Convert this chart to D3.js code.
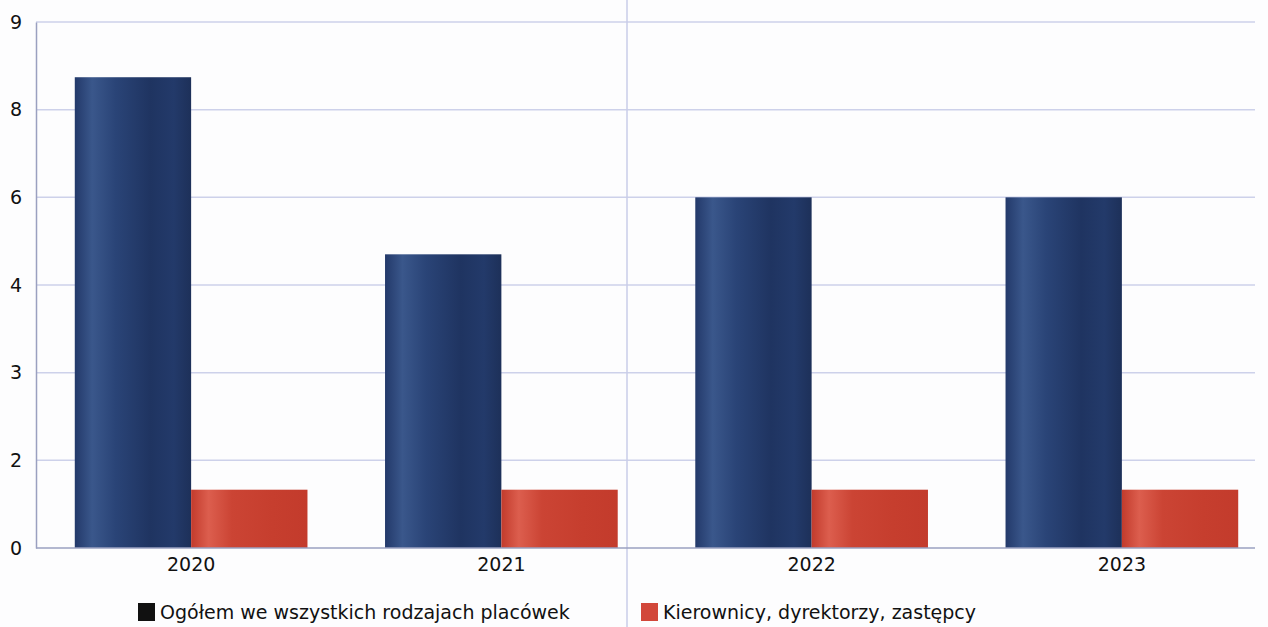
<!DOCTYPE html>
<html><head><meta charset="utf-8">
<script src="https://cdn.jsdelivr.net/npm/d3@7"></script>
<style>body{margin:0;background:#fdfdfe;}svg{display:block;font-family:"DejaVu Sans",sans-serif;}</style>
</head><body><svg id="c" width="1268" height="627"></svg>
<script>
const years = ["2020","2021","2022","2023"];
const ogolem = [8.37, 4.7, 6, 6];
const kierownicy = [1.33, 1.33, 1.33, 1.33];
const tickValues = [0,2,3,4,6,8,9];
const seriesNames = ["Ogółem we wszystkich rodzajach placówek","Kierownicy, dyrektorzy, zastępcy"];

(function(){
const svg = d3.select("#c");
const mLeft = 36, mRight = 1277, mBottom = 548, mTop = 22;
const x = d3.scaleBand().domain(years).range([mLeft, mRight]).paddingInner(0.25).paddingOuter(0.125);
const yRange = tickValues.map((d,i)=> mBottom - i*(mBottom-mTop)/(tickValues.length-1));
const y = d3.scaleLinear().domain(tickValues).range(yRange);

const defs = svg.append("defs");
function grad(id, stops){
  const g = defs.append("linearGradient").attr("id",id).attr("x1","0%").attr("x2","100%").attr("y1","0%").attr("y2","0%");
  stops.forEach(s=>g.append("stop").attr("offset",s[0]).attr("stop-color",s[1]));
}
grad("gb",[["0%","#23396a"],["15%","#3a578b"],["35%","#2a4477"],["65%","#1f3461"],["85%","#233a6a"],["100%","#1d3059"]]);
grad("gr",[["0%","#c23b2c"],["15%","#dc5e4e"],["35%","#cb4434"],["70%","#c63e2e"],["100%","#c33b2c"]]);

svg.append("g").selectAll("line").data(tickValues.filter(d=>d>0)).join("line")
  .attr("x1",mLeft).attr("x2",1255).attr("y1",d=>y(d)).attr("y2",d=>y(d))
  .attr("stroke","#cdd1ea").attr("stroke-width",1.5);

svg.append("line").attr("x1",627).attr("x2",627).attr("y1",0).attr("y2",627)
  .attr("stroke","#c9cde8").attr("stroke-width",1.5);

const ya = svg.append("g").attr("transform",`translate(${mLeft},0)`)
  .call(d3.axisLeft(y).tickValues(tickValues).tickSize(0).tickPadding(14).tickFormat(d3.format("d")));
ya.attr("font-size",null).attr("font-family",null);
ya.select(".domain").attr("stroke","#9aa0c0").attr("stroke-width",1.5);
ya.selectAll("text").style("font-size","19px").style("font-family","'DejaVu Sans',sans-serif").attr("fill","#111");

const g = svg.append("g");
const bw = x.bandwidth()/2;
g.selectAll("rect.b").data(years).join("rect").attr("class","b")
  .attr("x",d=>x(d)).attr("width",bw)
  .attr("y",(d,i)=>y(ogolem[i])).attr("height",(d,i)=>y(0)-y(ogolem[i]))
  .attr("fill","url(#gb)");
g.selectAll("rect.r").data(years).join("rect").attr("class","r")
  .attr("x",d=>x(d)+bw).attr("width",bw)
  .attr("y",(d,i)=>y(kierownicy[i])).attr("height",(d,i)=>y(0)-y(kierownicy[i]))
  .attr("fill","url(#gr)");

const xa = svg.append("g").attr("transform",`translate(0,${mBottom})`)
  .call(d3.axisBottom(x).tickSize(0).tickPadding(10));
xa.attr("font-size",null).attr("font-family",null);
xa.select(".domain").attr("d",`M${mLeft},0H1255`).attr("stroke","#9aa0c0").attr("stroke-width",1.5);
xa.selectAll("text").style("font-size","19px").style("font-family","'DejaVu Sans',sans-serif").attr("fill","#111");

const legX = [138, 641], legColors = ["#111111","#d2473a"];
const lg = svg.append("g");
seriesNames.forEach((n,i)=>{
  lg.append("rect").attr("x",legX[i]).attr("y",603).attr("width",17).attr("height",18).attr("fill",legColors[i]);
  lg.append("text").attr("x",legX[i]+22).attr("y",619).attr("font-size",19).attr("fill","#111").text(n);
});
})();
</script></body></html>
